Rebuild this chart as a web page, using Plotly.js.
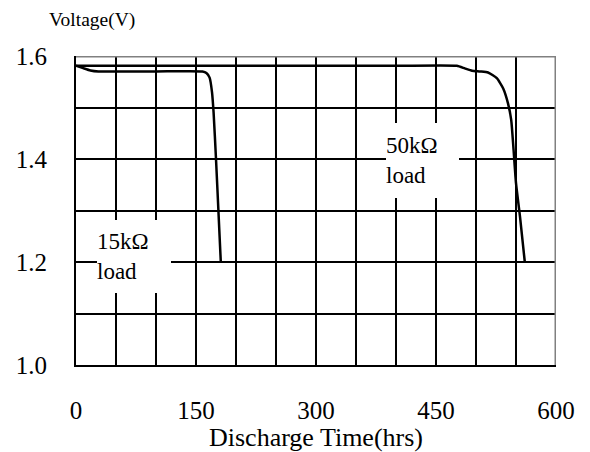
<!DOCTYPE html>
<html>
<head>
<meta charset="utf-8">
<script src="https://cdn.plot.ly/plotly-3.0.1.min.js"></script>
<style>html,body{margin:0;padding:0;background:#fff;}#chart{width:590px;height:452px;}</style>
</head>
<body>
<div id="chart"></div>
<script>
// Discharge curves (hours, volts)
const load15kHours = [0, 8, 18, 28, 100, 158, 163, 167, 170, 172, 175, 178, 181];
const load15kVolts = [1.581, 1.577, 1.572, 1.570, 1.570, 1.570, 1.567, 1.558, 1.530, 1.490, 1.400, 1.300, 1.200];
const load50kHours = [0, 200, 400, 476, 486, 495, 505, 515, 526, 534, 540, 544, 547, 550, 555, 561];
const load50kVolts = [1.581, 1.581, 1.581, 1.581, 1.576, 1.5715, 1.570, 1.568, 1.557, 1.537, 1.508, 1.476, 1.417, 1.353, 1.288, 1.200];
const xTickVals = [0, 150, 300, 450, 600];
const yTickVals = [1.0, 1.2, 1.4, 1.6];
const yTickText = ['1.0', '1.2', '1.4', '1.6'];

const FONT = 'Liberation Serif, Times New Roman, serif';
const lineStyle = {color: '#000', width: 2.5, shape: 'spline', smoothing: 0.5};

const traces = [
  {x: load15kHours, y: load15kVolts, type: 'scatter', mode: 'lines', name: '15kΩ load', line: lineStyle, hoverinfo: 'skip'},
  {x: load50kHours, y: load50kVolts, type: 'scatter', mode: 'lines', name: '50kΩ load', line: lineStyle, hoverinfo: 'skip'}
];

const layout = {
  width: 590, height: 452,
  margin: {l: 76, r: 34, t: 56, b: 87},
  paper_bgcolor: '#fff', plot_bgcolor: '#fff',
  showlegend: false,
  font: {family: FONT, color: '#000', size: 24},
  xaxis: {
    range: [0, 600], tickvals: xTickVals, ticktext: xTickVals.map(String),
    showgrid: true, gridcolor: '#000', gridwidth: 2,
    minor: {dtick: 50, tick0: 0, showgrid: true, gridcolor: '#000', gridwidth: 2},
    showline: true, linecolor: '#000', linewidth: 2,
    ticks: 'inside', ticklen: 10, tickwidth: 2, tickcolor: '#000',
    ticklabelstandoff: 22,
    tickfont: {family: FONT, size: 25, color: '#000'},
    zeroline: false, fixedrange: true,
    title: {text: 'Discharge Time(hrs)', font: {family: FONT, size: 26, color: '#000'}, standoff: 0}
  },
  yaxis: {
    range: [1.0, 1.6], tickvals: yTickVals, ticktext: yTickText,
    showgrid: true, gridcolor: '#000', gridwidth: 2,
    minor: {dtick: 0.1, tick0: 1.0, showgrid: true, gridcolor: '#000', gridwidth: 2},
    showline: true, linecolor: '#000', linewidth: 2,
    ticks: 'inside', ticklen: 10, tickwidth: 2, tickcolor: '#000',
    ticklabelstandoff: 22,
    tickfont: {family: FONT, size: 25, color: '#000'},
    zeroline: false, fixedrange: true
  },
  shapes: [
    {type: 'line', xref: 'x', yref: 'y', x0: 0, x1: 600, y0: 1.6, y1: 1.6, line: {color: '#808080', width: 3}, layer: 'between'},
    {type: 'line', xref: 'x', yref: 'y', x0: 600, x1: 600, y0: 1.0, y1: 1.6, line: {color: '#808080', width: 3}, layer: 'between'}
  ],
  annotations: [
    {xref: 'paper', yref: 'paper', x: (47 - 76) / 480, y: (365 - 20) / 309, xanchor: 'left', yanchor: 'middle',
     text: 'Voltage(V)', showarrow: false, font: {family: FONT, size: 19.5, color: '#000'}},
    {xref: 'x', yref: 'y', x: 26.25, y: 1.2816, xanchor: 'left', yanchor: 'top',
     text: '15kΩ<br>load', showarrow: false, align: 'left', valign: 'middle',
     width: 74, height: 73, bgcolor: '#fff', borderpad: 0, borderwidth: 0,
     font: {family: FONT, size: 23, color: '#000'}},
    {xref: 'x', yref: 'y', x: 387.5, y: 1.47, xanchor: 'left', yanchor: 'top',
     text: '50kΩ<br>load', showarrow: false, align: 'left', valign: 'middle',
     width: 73, height: 75, bgcolor: '#fff', borderpad: 0, borderwidth: 0,
     font: {family: FONT, size: 23, color: '#000'}}
  ]
};

Plotly.newPlot('chart', traces, layout, {displayModeBar: false, staticPlot: true});
</script>
</body>
</html>
